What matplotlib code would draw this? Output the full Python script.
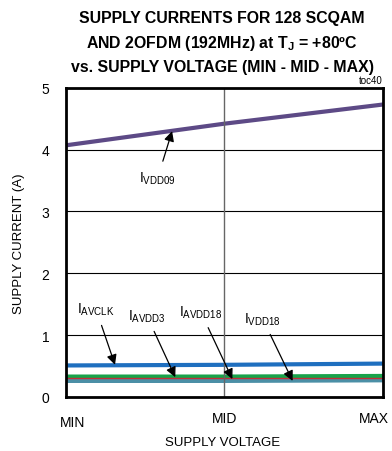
import matplotlib.pyplot as plt
from matplotlib import transforms

plt.rcParams['font.family'] = ['Liberation Sans', 'DejaVu Sans']
plt.rcParams['mathtext.fontset'] = 'custom'
plt.rcParams['mathtext.rm'] = 'Liberation Sans'

voltage = ['MIN', 'MID', 'MAX']
x = [0, 1, 2]
i_vdd09 = [4.07, 4.42, 4.73]
i_avclk = [0.51, 0.52, 0.54]
i_avdd3 = [0.33, 0.33, 0.34]
i_avdd18 = [0.30, 0.30, 0.30]
i_vdd18 = [0.26, 0.26, 0.27]

fig = plt.figure(figsize=(3.92, 4.52), dpi=100)
ax = fig.add_axes([0.168, 0.1195, 0.809, 0.684])

ax.plot(x, i_vdd09, color='#5d4a86', lw=3)
ax.plot(x, i_avclk, color='#1f6fbf', lw=3)
ax.plot(x, i_avdd3, color='#17a34a', lw=3)
ax.plot(x, i_vdd18, color='#4b8fa6', lw=3)
ax.plot(x, i_avdd18, color='#c0303a', lw=1)

ax.set_xlim(0, 2)
ax.set_ylim(0, 5)
ax.set_xticks(x)
ax.set_xticklabels(voltage)
ax.set_yticks(range(6))
ax.tick_params(length=0, labelsize=10)
ax.tick_params(axis='y', pad=12)
ax.tick_params(axis='x', pad=10)
ax.grid(axis='y', color='black', lw=0.8)
ax.axvline(1, color='#666666', lw=1)
for s in ax.spines.values():
    s.set_linewidth(2)

labs = ax.get_xticklabels()
labs[0].set_transform(labs[0].get_transform() + transforms.ScaledTranslation(0.07, -0.04, fig.dpi_scale_trans))
labs[2].set_transform(labs[2].get_transform() + transforms.ScaledTranslation(-0.09, 0, fig.dpi_scale_trans))

fig.text(0.567, 0.02, 'SUPPLY VOLTAGE', fontsize=9.5, ha='center', va='center')
ax.set_ylabel('SUPPLY CURRENT (A)', fontsize=9.5, labelpad=12)

fig.suptitle('SUPPLY CURRENTS FOR 128 SCQAM\nAND 2OFDM (192MHz) at $\\mathregular{T_J}$ = +80ºC\nvs. SUPPLY VOLTAGE (MIN - MID - MAX)',
             x=0.567, y=0.976, fontsize=11.4, fontweight='bold', linespacing=1.6)
ax.text(1.0, 1.01, 'toc40', transform=ax.transAxes, ha='right', va='bottom', fontsize=7)

arrow = dict(arrowstyle='-|>', color='black', lw=0.9, mutation_scale=15)
notes = [
    ('$\\mathregular{I_{VDD09}}$', (0.67, 4.30), (0.58, 3.55)),
    ('$\\mathregular{I_{AVCLK}}$', (0.31, 0.52), (0.19, 1.42)),
    ('$\\mathregular{I_{AVDD3}}$', (0.69, 0.32), (0.51, 1.32)),
    ('$\\mathregular{I_{AVDD18}}$', (1.05, 0.29), (0.85, 1.38)),
    ('$\\mathregular{I_{VDD18}}$', (1.43, 0.26), (1.24, 1.27)),
]
for txt, head, tail in notes:
    ax.annotate(txt, xy=head, xytext=tail, fontsize=10, ha='center', va='center',
                arrowprops=dict(arrow, shrinkA=4, shrinkB=0))

fig.savefig('out.png', dpi=100)
